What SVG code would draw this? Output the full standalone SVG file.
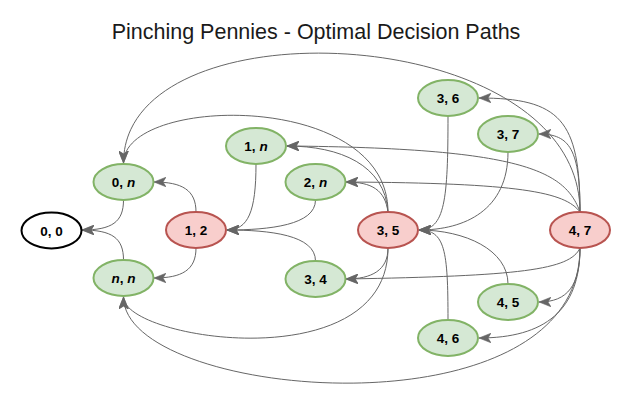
<svg xmlns="http://www.w3.org/2000/svg" width="631" height="402" viewBox="0 0 631 402">
<style>
.g ellipse{fill:#d5e8d4;stroke:#82b366;stroke-width:2}
.r ellipse{fill:#f8cecc;stroke:#b85450;stroke-width:2}
.w ellipse{fill:#ffffff;stroke:#000000;stroke-width:2}
.lbl{font-family:"Liberation Sans",Arial,sans-serif;font-size:13.5px;font-weight:bold;fill:#000;text-anchor:middle}
.i{font-style:italic}
#edges path{fill:none;stroke:#666666;stroke-width:1;marker-end:url(#arr)}
.title{font-family:"Liberation Sans",Arial,sans-serif;font-size:21.5px;fill:#1a1a1a;text-anchor:middle}
</style>
<defs>
<marker id="arr" markerUnits="userSpaceOnUse" markerWidth="12" markerHeight="10" viewBox="0 0 10 8" refX="10" refY="4" orient="auto">
<path d="M0,0 L10,4 L0,8 L2.5,4 z" fill="#666666" stroke="#666666" stroke-width="0.5"/>
</marker>
</defs>
<rect width="631" height="402" fill="#ffffff"/>
<text class="title" x="316" y="38.5">Pinching Pennies - Optimal Decision Paths</text>
<g id="edges">
<path d="M580,212 C580,20 123.5,0 123.5,163"/>
<path d="M388,212 C388,90 123.5,95 123.5,163"/>
<path d="M388,248 C388,380 123.5,340 123.5,297"/>
<path d="M580,248 C580,440 123.5,400 123.5,297"/>
<path d="M580,212 C580,120 560,98 479,98"/>
<path d="M580,212 C580,150 570,134 539,134"/>
<path d="M580,212 C565,170 520,148 287,146"/>
<path d="M580,212 C565,192 520,183 346,182"/>
<path d="M580,248 C570,270 520,276 346,279"/>
<path d="M580,248 C580,285 568,302 539,302"/>
<path d="M580,248 C580,310 545,338 479,338"/>
<path d="M448,116 C448,200 445,230 419,230"/>
<path d="M508,152 C508,210 465,230 419,230"/>
<path d="M508,284 C508,250 465,230 419,230"/>
<path d="M448,320 C448,250 445,230 419,230"/>
<path d="M388,212 C385,165 340,146 287,146"/>
<path d="M388,212 C385,190 372,182 346,182"/>
<path d="M388,248 C388,270 372,279 346,279"/>
<path d="M256,164 C256,212 248,230 227,230"/>
<path d="M315.5,200 C315.5,225 270,230 227,230"/>
<path d="M315.5,261 C315.5,235 270,230 227,230"/>
<path d="M196,212 C196,190 182,182 154,182"/>
<path d="M196,248 C196,270 182,278 154,278"/>
<path d="M123.5,200 C123.5,222 112,230 82,230"/>
<path d="M123.5,260 C123.5,238 112,230 82,230"/>
</g>
<g id="n00" class="w"><ellipse cx="51.5" cy="230.5" rx="30" ry="18"/><text class="lbl" x="51.5" y="235.5">0, 0</text></g>
<g id="n0n" class="g"><ellipse cx="123.5" cy="182" rx="30" ry="18"/><text class="lbl" x="123.5" y="187">0, <tspan class="i">n</tspan></text></g>
<g id="nnn" class="g"><ellipse cx="123.5" cy="278" rx="30" ry="18"/><text class="lbl" x="123.5" y="283"><tspan class="i">n</tspan>, <tspan class="i">n</tspan></text></g>
<g id="n12" class="r"><ellipse cx="196" cy="230" rx="30" ry="18"/><text class="lbl" x="196" y="235">1, 2</text></g>
<g id="n1n" class="g"><ellipse cx="256" cy="146" rx="30" ry="18"/><text class="lbl" x="256" y="151">1, <tspan class="i">n</tspan></text></g>
<g id="n2n" class="g"><ellipse cx="315.5" cy="182" rx="30" ry="18"/><text class="lbl" x="315.5" y="187">2, <tspan class="i">n</tspan></text></g>
<g id="n34" class="g"><ellipse cx="315.5" cy="279" rx="30" ry="18"/><text class="lbl" x="315.5" y="284">3, 4</text></g>
<g id="n35" class="r"><ellipse cx="388" cy="230" rx="30" ry="18"/><text class="lbl" x="388" y="235">3, 5</text></g>
<g id="n36" class="g"><ellipse cx="448" cy="98" rx="30" ry="18"/><text class="lbl" x="448" y="103">3, 6</text></g>
<g id="n37" class="g"><ellipse cx="508" cy="134" rx="30" ry="18"/><text class="lbl" x="508" y="139">3, 7</text></g>
<g id="n45" class="g"><ellipse cx="508" cy="302" rx="30" ry="18"/><text class="lbl" x="508" y="307">4, 5</text></g>
<g id="n46" class="g"><ellipse cx="448" cy="338" rx="30" ry="18"/><text class="lbl" x="448" y="343">4, 6</text></g>
<g id="n47" class="r"><ellipse cx="580" cy="230" rx="30" ry="18"/><text class="lbl" x="580" y="235">4, 7</text></g>
</svg>
